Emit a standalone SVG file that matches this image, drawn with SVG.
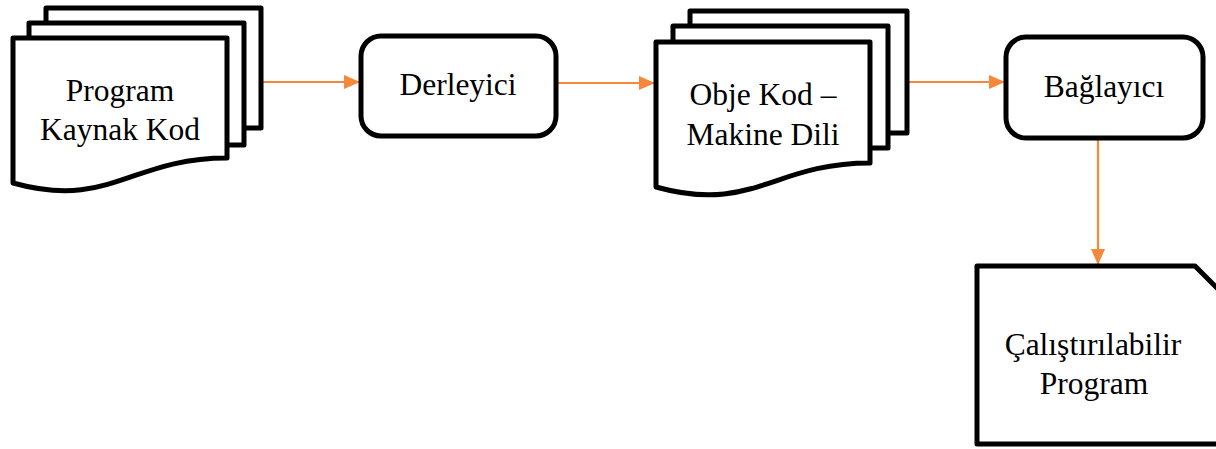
<svg xmlns="http://www.w3.org/2000/svg" width="1216" height="449" viewBox="0 0 1216 449">
<defs>
<style>
.s{fill:#fff;stroke:#000;stroke-width:5;stroke-linejoin:round}
.t{font-family:"Liberation Serif","Times New Roman",serif;font-size:31.5px;fill:#000;text-anchor:middle}
.c{stroke:#F5883A;stroke-width:2.2;fill:none}
</style>
<marker id="ah" markerWidth="16" markerHeight="14" refX="16" refY="7" orient="auto" markerUnits="userSpaceOnUse">
<path d="M0,0 L16,7 L0,14 Z" fill="#F5883A"/>
</marker>
</defs>
<rect width="1216" height="449" fill="#fff"/>
<g id="connectors">
<line class="c" x1="261" y1="82" x2="360" y2="82" marker-end="url(#ah)"/>
<line class="c" x1="556" y1="83" x2="655" y2="83" marker-end="url(#ah)"/>
<line class="c" x1="907" y1="82" x2="1005" y2="82" marker-end="url(#ah)"/>
<line class="c" x1="1098" y1="139" x2="1098" y2="265" marker-end="url(#ah)"/>
</g>
<g id="node-kaynak">
<rect class="s" x="46" y="8" width="215" height="120"/>
<rect class="s" x="29" y="23" width="215" height="122"/>
<path class="s" d="M13,38 H227 V158 C130,158 110,210 13,183 Z"/>
<text class="t" x="120" y="101">Program</text>
<text class="t" x="120" y="140">Kaynak Kod</text>
</g>
<g id="node-derleyici">
<rect class="s" x="361" y="36" width="195" height="100" rx="20"/>
<text class="t" x="458" y="95">Derleyici</text>
</g>
<g id="node-obje">
<rect class="s" x="690" y="11" width="217" height="122"/>
<rect class="s" x="673" y="26" width="215" height="122"/>
<path class="s" d="M656,42 H870 V163 C773,163 753,214 656,187 Z"/>
<text class="t" x="763" y="105">Obje Kod –</text>
<text class="t" x="763" y="145">Makine Dili</text>
</g>
<g id="node-baglayici">
<rect class="s" x="1006" y="37" width="197" height="101" rx="20"/>
<text class="t" x="1104" y="97">Bağlayıcı</text>
</g>
<g id="node-calistirilabilir">
<path class="s" d="M977,266 H1195 L1240,311 V444 H977 Z"/>
<text class="t" x="1093" y="355">Çalıştırılabilir</text>
<text class="t" x="1094" y="394">Program</text>
</g>
</svg>
